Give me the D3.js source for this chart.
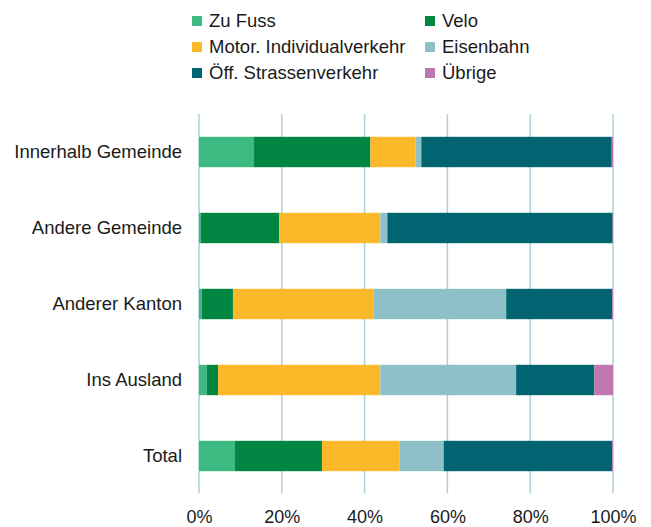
<!DOCTYPE html>
<html>
<head>
<meta charset="utf-8">
<script src="https://cdn.jsdelivr.net/npm/d3@7"></script>
<style>
    body { margin: 0; background: #fff; }
    text { font-family: "Liberation Sans", Arial, sans-serif; fill: #1a1a1a; }
</style>
</head>
<body>
<div id="chart-area"></div>
<script>
// categories (bars) and series (stack segments), values in percent
let categories = ["Innerhalb Gemeinde", "Andere Gemeinde", "Anderer Kanton", "Ins Ausland", "Total"];
let series = ["Zu Fuss", "Velo", "Motor. Individualverkehr", "Eisenbahn", "Öff. Strassenverkehr", "Übrige"];

let zuFuss = [13.3, 0.5, 0.7, 1.9, 8.7];
let velo = [28.1, 18.9, 7.5, 2.7, 21.0];
let miv = [10.9, 24.4, 33.9, 39.2, 18.7];
let eisenbahn = [1.4, 1.7, 32.1, 32.8, 10.7];
let oev = [46.0, 54.4, 25.6, 18.9, 40.7];
let uebrige = [0.3, 0.1, 0.2, 4.5, 0.2];

let ticks = [0, 20, 40, 60, 80, 100];
let colors = ["#3dba82", "#008542", "#fbb829", "#90c0c7", "#006571", "#c077b0"];

let values = [zuFuss, velo, miv, eisenbahn, oev, uebrige];

// build table for d3.stack
let data = categories.map(function (c, i) {
    let row = {category: c};
    series.forEach(function (s, j) {
        row[s] = values[j][i];
    });
    return row;
});

let width = 651,
    height = 527;
let margin = {top: 114, right: 38, left: 199, bottom: 33};
let innerW = width - margin.left - margin.right;
let innerH = height - margin.top - margin.bottom;

let svg = d3.select("#chart-area")
    .append("svg")
    .attr("width", width)
    .attr("height", height);

let g = svg.append("g")
    .attr("transform", "translate(" + margin.left + "," + margin.top + ")");

let x = d3.scaleLinear()
    .domain([0, 100])
    .range([0, innerW]);

let y = d3.scaleBand()
    .domain(categories)
    .range([0, innerH])
    .paddingInner(0.6)
    .paddingOuter(0.3);

let color = d3.scaleOrdinal()
    .domain(series)
    .range(colors);

// vertical gridlines
g.selectAll(".grid")
    .data(ticks)
    .enter()
    .append("line")
    .attr("class", "grid")
    .attr("x1", function (d) { return x(d); })
    .attr("x2", function (d) { return x(d); })
    .attr("y1", 0)
    .attr("y2", innerH - 1)
    .attr("stroke", "#acd0d8")
    .attr("stroke-width", 1.5);

// stacked bars
let stacked = d3.stack().keys(series)(data);

let layers = g.selectAll(".layer")
    .data(stacked)
    .enter()
    .append("g")
    .attr("class", "layer")
    .attr("fill", function (d) { return color(d.key); });

layers.selectAll("rect")
    .data(function (d) { return d; })
    .enter()
    .append("rect")
    .attr("x", function (d) { return x(d[0]); })
    .attr("y", function (d) { return y(d.data.category); })
    .attr("width", function (d) { return x(d[1]) - x(d[0]); })
    .attr("height", y.bandwidth());

// category labels
g.selectAll(".cat-label")
    .data(categories)
    .enter()
    .append("text")
    .attr("class", "cat-label")
    .attr("x", -17)
    .attr("y", function (d) { return y(d) + y.bandwidth() / 2; })
    .attr("dy", "0.35em")
    .attr("text-anchor", "end")
    .style("font-size", "18.5px")
    .text(function (d) { return d; });

// x axis tick labels
let xAxis = d3.axisBottom(x)
    .tickValues(ticks)
    .tickSize(0)
    .tickFormat(function (d) { return d + "%"; });

let axisG = g.append("g")
    .attr("transform", "translate(0," + innerH + ")")
    .call(xAxis);

axisG.select(".domain").remove();
axisG.selectAll("text")
    .attr("y", 16)
    .attr("dy", "0.71em")
    .style("font-size", "18px")
    .style("font-family", "'Liberation Sans', Arial, sans-serif")
    .attr("fill", "#1a1a1a");

// legend, two columns
let legend = svg.selectAll(".legend")
    .data(series)
    .enter()
    .append("g")
    .attr("class", "legend")
    .attr("transform", function (d, i) {
        let col = i % 2;
        let row = Math.floor(i / 2);
        return "translate(" + (col === 0 ? 192 : 425) + "," + (21 + row * 26) + ")";
    });

legend.append("rect")
    .attr("x", 0)
    .attr("y", -5)
    .attr("width", 10)
    .attr("height", 10)
    .attr("fill", function (d) { return color(d); });

legend.append("text")
    .attr("x", 17)
    .attr("y", 0)
    .attr("dy", "0.35em")
    .style("font-size", "18.5px")
    .text(function (d) { return d; });
</script>
</body>
</html>
